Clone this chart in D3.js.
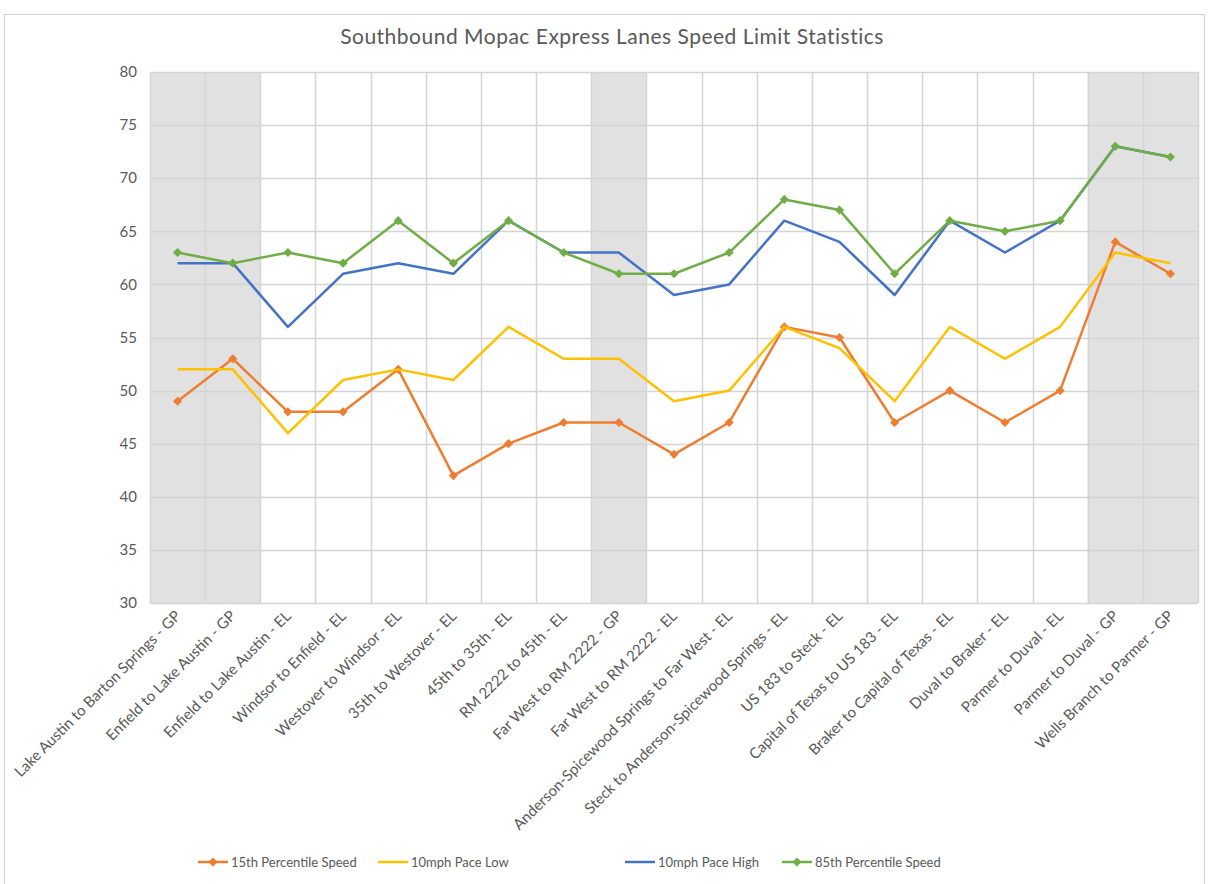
<!DOCTYPE html>
<html>
<head>
<meta charset="utf-8">
<script src="https://cdn.jsdelivr.net/npm/d3@7"></script>
<style>
  body { margin: 0; background: #fff; }
  svg { display: block; font-family: Lato, "Open Sans", sans-serif; }
</style>
</head>
<body>
<div id="chart"></div>
<script>
// Road segments, south to north along Mopac
const segments = [
  "Lake Austin to Barton Springs - GP",
  "Enfield to Lake Austin - GP",
  "Enfield to Lake Austin - EL",
  "Windsor to Enfield - EL",
  "Westover to Windsor - EL",
  "35th to Westover - EL",
  "45th to 35th - EL",
  "RM 2222 to 45th - EL",
  "Far West to RM 2222 - GP",
  "Far West to RM 2222 - EL",
  "Anderson-Spicewood Springs to Far West - EL",
  "Steck to Anderson-Spicewood Springs - EL",
  "US 183 to Steck - EL",
  "Capital of Texas to US 183 - EL",
  "Braker to Capital of Texas - EL",
  "Duval to Braker - EL",
  "Parmer to Duval - EL",
  "Parmer to Duval - GP",
  "Wells Branch to Parmer - GP"
];

const pct15 = [49, 53, 48, 48, 52, 42, 45, 47, 47, 44, 47, 56, 55, 47, 50, 47, 50, 64, 61];
const paceLow = [52, 52, 46, 51, 52, 51, 56, 53, 53, 49, 50, 56, 54, 49, 56, 53, 56, 63, 62];
const paceHigh = [62, 62, 56, 61, 62, 61, 66, 63, 63, 59, 60, 66, 64, 59, 66, 63, 66, 73, 72];
const pct85 = [63, 62, 63, 62, 66, 62, 66, 63, 61, 61, 63, 68, 67, 61, 66, 65, 66, 73, 72];

const yTicks = [30, 35, 40, 45, 50, 55, 60, 65, 70, 75, 80];

// general purpose lane segments get the gray background
const shaded = segments.filter(s => s.endsWith("- GP"));

const series = [
  { name: "15th Percentile Speed", values: pct15, color: "#ED7D31", marker: true },
  { name: "10mph Pace Low", values: paceLow, color: "#FFC000", marker: false },
  { name: "10mph Pace High", values: paceHigh, color: "#4472C4", marker: false },
  { name: "85th Percentile Speed", values: pct85, color: "#70AD47", marker: true }
];

const width = 1209;
const height = 884;
const margin = { top: 72, right: 11, bottom: 281, left: 150 };

const svg = d3.select("#chart").append("svg")
  .attr("width", width)
  .attr("height", height);

// outer chart frame (runs off the bottom of the picture)
svg.append("rect")
  .attr("x", 4.5).attr("y", 14.5)
  .attr("width", 1200).attr("height", 900)
  .attr("fill", "none")
  .attr("stroke", "#d0d0d0");

svg.append("text")
  .attr("x", 612).attr("y", 44)
  .attr("text-anchor", "middle")
  .attr("font-size", 21)
  .attr("letter-spacing", 0.5)
  .attr("fill", "#595959")
  .text("Southbound Mopac Express Lanes Speed Limit Statistics");

const x = d3.scaleBand()
  .domain(segments)
  .range([margin.left, width - margin.right]);

const y = d3.scaleLinear()
  .domain([30, 80])
  .range([height - margin.bottom, margin.top]);

const cx = d => x(d) + x.bandwidth() / 2;

// gray shading behind the GP segments
svg.append("g")
  .selectAll("rect")
  .data(shaded)
  .join("rect")
  .attr("x", d => x(d))
  .attr("y", y(80))
  .attr("width", x.bandwidth())
  .attr("height", y(30) - y(80))
  .attr("fill", "#e1e1e1");

// horizontal gridlines
svg.append("g")
  .selectAll("line")
  .data(yTicks)
  .join("line")
  .attr("x1", margin.left)
  .attr("x2", width - margin.right)
  .attr("y1", d => Math.round(y(d)) + 0.5)
  .attr("y2", d => Math.round(y(d)) + 0.5)
  .attr("stroke", "#d4d4d4")
  .attr("stroke-width", 1.5);

// vertical gridlines at category edges
const edges = segments.map(s => x(s)).concat([width - margin.right]);
svg.append("g")
  .selectAll("line")
  .data(edges)
  .join("line")
  .attr("x1", d => Math.round(d) + 0.5)
  .attr("x2", d => Math.round(d) + 0.5)
  .attr("y1", y(80))
  .attr("y2", y(30))
  .attr("stroke", "#d4d4d4")
  .attr("stroke-width", 1.5);

// y axis labels
svg.append("g")
  .selectAll("text")
  .data(yTicks)
  .join("text")
  .attr("x", 137)
  .attr("y", d => y(d))
  .attr("dy", "0.35em")
  .attr("text-anchor", "end")
  .attr("font-size", 15)
  .attr("fill", "#595959")
  .text(d => d);

// rotated category labels
svg.append("g")
  .selectAll("text")
  .data(segments)
  .join("text")
  .attr("transform", d => `translate(${cx(d) + 4},${y(30) + 14}) rotate(-45)`)
  .attr("text-anchor", "end")
  .attr("font-size", 15)
  .attr("fill", "#595959")
  .text(d => d);

const line = d3.line()
  .x((d, i) => cx(segments[i]))
  .y(d => y(d));

// square turned 45 degrees, like the Excel diamond marker
const diamond = d3.symbol().type(d3.symbolSquare).size(42);

series.forEach(s => {
  svg.append("path")
    .datum(s.values)
    .attr("d", line)
    .attr("fill", "none")
    .attr("stroke", s.color)
    .attr("stroke-width", 2.5)
    .attr("stroke-linejoin", "round");
  if (s.marker) {
    svg.append("g")
      .selectAll("path")
      .data(s.values)
      .join("path")
      .attr("transform", (d, i) => `translate(${cx(segments[i])},${y(d)}) rotate(45)`)
      .attr("d", diamond)
      .attr("fill", s.color);
  }
});

// legend
const legendX = [198, 378, 625, 782];
const legend = svg.append("g")
  .selectAll("g")
  .data(series)
  .join("g")
  .attr("transform", (d, i) => `translate(${legendX[i]},862)`);

legend.append("line")
  .attr("x1", 0).attr("x2", 30)
  .attr("stroke", d => d.color)
  .attr("stroke-width", 2.5);

legend.filter(d => d.marker).append("path")
  .attr("transform", "translate(15,0) rotate(45)")
  .attr("d", diamond)
  .attr("fill", d => d.color);

legend.append("text")
  .attr("x", 33)
  .attr("dy", "0.35em")
  .attr("font-size", 13)
  .attr("fill", "#595959")
  .text(d => d.name);
</script>
</body>
</html>
